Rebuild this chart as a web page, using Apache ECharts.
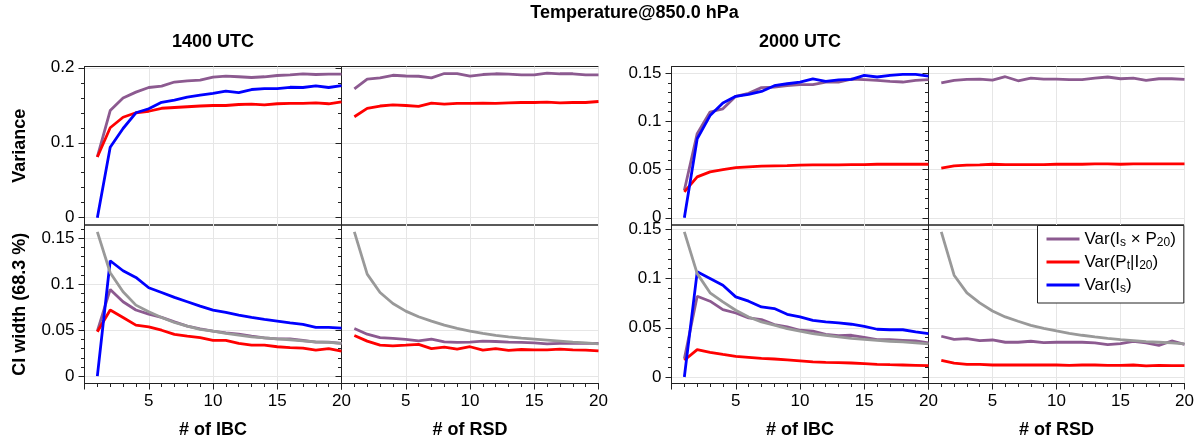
<!DOCTYPE html>
<html>
<head>
<meta charset="utf-8">
<script src="https://cdn.jsdelivr.net/npm/echarts@6.0.0/dist/echarts.min.js"></script>
<style>
html,body{margin:0;padding:0;background:#fff;}
#chart{width:1199px;height:443px;}
</style>
</head>
<body>
<div id="chart"></div>
<script>
// ---------------- data ----------------
const nMembers = [1,2,3,4,5,6,7,8,9,10,11,12,13,14,15,16,17,18,19,20];

const mainTitle = 'Temperature@850.0 hPa';
const timeTitles = ['1400 UTC', '2000 UTC'];
const xTitles = ['# of IBC', '# of RSD'];
const yTitles = ['Variance', 'CI width (68.3 %)'];
const legendNames = ['Var(Is × P20)', 'Var(Pt|I20)', 'Var(Is)'];
const xTickLabels = [5, 10, 15, 20];
const yTicksVarLeft = [0, 0.1, 0.2];
const yTicksOther = [0, 0.05, 0.1, 0.15];

// 1400 UTC, variance vs # of IBC
const v1400IbcMix = [0.081,0.143,0.1596,0.1675,0.1737,0.1755,0.181,0.1826,0.1835,0.1875,0.1888,0.188,0.187,0.188,0.1897,0.1905,0.192,0.191,0.1915,0.1915];
const v1400IbcPt  = [0.081,0.120,0.134,0.140,0.142,0.146,0.147,0.148,0.149,0.1497,0.1497,0.151,0.1515,0.1506,0.152,0.1524,0.1524,0.1533,0.152,0.1546];
const v1400IbcIs  = [0,0.094,0.119,0.140,0.1453,0.154,0.157,0.161,0.1635,0.166,0.169,0.167,0.171,0.1723,0.1723,0.174,0.1737,0.176,0.1737,0.1763];
// 1400 UTC, variance vs # of RSD
const v1400RsdMix = [0.172,0.185,0.1865,0.190,0.189,0.1887,0.1865,0.1923,0.1923,0.189,0.191,0.192,0.1915,0.1905,0.1905,0.193,0.192,0.192,0.1905,0.1905];
const v1400RsdPt  = [0.1347,0.1458,0.149,0.1506,0.1497,0.1484,0.1528,0.1515,0.1524,0.1524,0.1528,0.1524,0.1533,0.1537,0.1537,0.1541,0.1533,0.1537,0.1537,0.155];
// 1400 UTC, CI width vs # of IBC
const c1400IbcRef = [0.157,0.1125,0.0918,0.0773,0.070,0.0639,0.0584,0.0544,0.0508,0.049,0.0465,0.0446,0.0428,0.0417,0.0406,0.0396,0.0385,0.0374,0.0367,0.0356];
const c1400IbcMix = [0.049,0.0944,0.081,0.072,0.0675,0.064,0.059,0.0544,0.0515,0.049,0.047,0.0457,0.0435,0.0417,0.0406,0.0406,0.0388,0.037,0.037,0.0356];
const c1400IbcPt  = [0.0483,0.0719,0.0639,0.0555,0.0537,0.050,0.0454,0.0435,0.042,0.039,0.039,0.0356,0.0337,0.0337,0.032,0.031,0.0305,0.0283,0.030,0.0272];
const c1400IbcIs  = [0,0.1256,0.1147,0.1074,0.0962,0.091,0.0857,0.081,0.0762,0.0719,0.0693,0.0664,0.0639,0.0617,0.0599,0.058,0.0563,0.053,0.053,0.0523];
// 1400 UTC, CI width vs # of RSD
const c1400RsdRef = [0.157,0.111,0.091,0.079,0.0708,0.0646,0.0599,0.0555,0.0519,0.049,0.0465,0.0443,0.0428,0.0414,0.0403,0.0392,0.0381,0.037,0.0363,0.0352];
const c1400RsdMix = [0.0519,0.0457,0.042,0.041,0.040,0.0385,0.0403,0.0374,0.0367,0.037,0.0381,0.0377,0.037,0.0367,0.0363,0.0352,0.0356,0.036,0.0356,0.0356];
const c1400RsdPt  = [0.0443,0.0381,0.0337,0.033,0.0337,0.0345,0.030,0.0316,0.0294,0.032,0.0283,0.030,0.028,0.029,0.0287,0.0287,0.0294,0.0287,0.0283,0.0276];
// 2000 UTC, variance vs # of IBC
const v2000IbcMix = [0.0286,0.0873,0.1097,0.113,0.126,0.129,0.135,0.1356,0.137,0.138,0.138,0.1408,0.1408,0.1439,0.1432,0.1425,0.1415,0.1408,0.1425,0.1432];
const v2000IbcPt  = [0.0269,0.0424,0.0476,0.050,0.052,0.0528,0.0535,0.0538,0.054,0.0545,0.0549,0.0549,0.0549,0.0552,0.0552,0.0555,0.0555,0.0555,0.0555,0.0555];
const v2000IbcIs  = [0,0.082,0.106,0.119,0.126,0.128,0.131,0.137,0.139,0.1408,0.144,0.1415,0.143,0.1435,0.1477,0.146,0.1477,0.1487,0.1487,0.147];
// 2000 UTC, variance vs # of RSD
const v2000RsdMix = [0.140,0.1425,0.1435,0.1439,0.1428,0.1463,0.1421,0.1449,0.1439,0.1439,0.1432,0.1432,0.1449,0.146,0.1442,0.1449,0.1425,0.1442,0.1442,0.1435];
const v2000RsdPt  = [0.0514,0.0538,0.0545,0.0549,0.0555,0.0552,0.0552,0.0552,0.0552,0.0555,0.0555,0.0555,0.0559,0.0559,0.0555,0.0559,0.0559,0.0559,0.0559,0.0559];
// 2000 UTC, CI width vs # of IBC
const c2000IbcRef = [0.1475,0.105,0.0855,0.0763,0.0678,0.061,0.056,0.0526,0.0492,0.0465,0.0441,0.0424,0.0407,0.0393,0.0383,0.0373,0.0363,0.0356,0.0346,0.0336];
const c2000IbcMix = [0.0186,0.082,0.077,0.0685,0.065,0.060,0.0583,0.0532,0.0509,0.0475,0.0465,0.0434,0.042,0.0424,0.0403,0.038,0.038,0.0373,0.0366,0.0346];
const c2000IbcPt  = [0.017,0.0278,0.0251,0.023,0.021,0.020,0.019,0.0183,0.0173,0.0163,0.0153,0.0149,0.0146,0.0142,0.0136,0.0129,0.0125,0.0122,0.0119,0.0115];
const c2000IbcIs  = [0,0.1068,0.100,0.0932,0.0814,0.077,0.0712,0.0695,0.0637,0.061,0.0576,0.056,0.055,0.0536,0.0515,0.0485,0.048,0.048,0.0458,0.0441];
// 2000 UTC, CI width vs # of RSD
const c2000RsdRef = [0.1475,0.1034,0.0854,0.0753,0.067,0.061,0.0566,0.0525,0.0495,0.0468,0.0444,0.0424,0.0407,0.0393,0.038,0.037,0.036,0.0353,0.0346,0.0336];
const c2000RsdMix = [0.0414,0.0383,0.039,0.037,0.0376,0.0353,0.0353,0.0363,0.035,0.0353,0.0353,0.0353,0.0346,0.0329,0.0339,0.0363,0.0346,0.0322,0.0366,0.0332];
const c2000RsdPt  = [0.017,0.0142,0.0129,0.0129,0.0122,0.0122,0.0122,0.0122,0.0122,0.0122,0.0119,0.0122,0.0122,0.0119,0.0119,0.0122,0.0112,0.0119,0.0115,0.0115];

// ---------------- layout / style ----------------
const FONT = '"Liberation Sans", Arial, Helvetica, sans-serif';
const COL = {mix:'#8c5a90', pt:'#ff0000', is:'#0000ff', ref:'#999999'};
const SPINE = '#222';
const GRIDC = '#e6e6e6';

const yLim = {
  topL:{min:-0.0097, max:0.2017, step:0.1,  ticks:yTicksVarLeft},
  botL:{min:-0.008,  max:0.1645, step:0.05, ticks:yTicksOther},
  topR:{min:-0.0075, max:0.1569, step:0.05, ticks:yTicksOther},
  botR:{min:-0.0066, max:0.1544, step:0.05, ticks:yTicksOther}
};
const panels = [
  {left:84.5,  top:66.5, width:257, height:158.5, col:0, bottom:false, lim:yLim.topL, yName:yTitles[0]},
  {left:341.5, top:66.5, width:257, height:158.5, col:1, bottom:false, lim:yLim.topL},
  {left:84.5,  top:225,  width:257, height:158.5, col:0, bottom:true,  lim:yLim.botL, yName:yTitles[1]},
  {left:341.5, top:225,  width:257, height:158.5, col:1, bottom:true,  lim:yLim.botL},
  {left:671.5, top:66.5, width:257, height:158.5, col:0, bottom:false, lim:yLim.topR},
  {left:928.5, top:66.5, width:256, height:158.5, col:1, bottom:false, lim:yLim.topR},
  {left:671.5, top:225,  width:257, height:158.5, col:0, bottom:true,  lim:yLim.botR},
  {left:928.5, top:225,  width:256, height:158.5, col:1, bottom:true,  lim:yLim.botR}
];

const grids = panels.map(p => ({
  left:p.left, top:p.top, width:p.width, height:p.height,
  show:true, borderColor:SPINE, borderWidth:1, backgroundColor:'transparent', containLabel:false
}));

const xAxes = panels.map((p,i) => ({
  gridIndex:i, type:'value', min:0, max:20, interval:5,
  axisLine:{show:p.bottom, onZero:false, lineStyle:{color:SPINE, width:1}},
  axisTick:{show:p.bottom, inside:false, length:6, lineStyle:{color:SPINE, width:1}},
  minorTick:{show:p.bottom, splitNumber:5, length:3.5, lineStyle:{color:SPINE, width:1}},
  axisLabel:{show:p.bottom, fontSize:17, color:'#000', fontFamily:FONT, margin:9,
             formatter:v => (xTickLabels.indexOf(v) >= 0 ? String(v) : '')},
  splitLine:{show:true, lineStyle:{color:GRIDC, width:1}},
  name:p.bottom ? xTitles[p.col] : '',
  nameLocation:'middle', nameGap:38,
  nameTextStyle:{fontSize:18, fontWeight:'bold', color:'#000', fontFamily:FONT}
}));

function yFmt(step){
  return function(v){
    const k = v/step;
    if (Math.abs(k - Math.round(k)) > 1e-6) return '';
    return String(+v.toFixed(4));
  };
}

const yAxes = panels.map((p,i) => ({
  gridIndex:i, type:'value', min:p.lim.min, max:p.lim.max,
  minInterval:p.lim.step, maxInterval:p.lim.step, splitNumber:3,
  axisLine:{show:true, onZero:false, lineStyle:{color:SPINE, width:1}},
  axisTick:{show:true, inside:false, length:6, customValues:p.lim.ticks, lineStyle:{color:SPINE, width:1}},
  minorTick:{show:true, splitNumber:5, length:3.5, lineStyle:{color:SPINE, width:1}},
  axisLabel:{show:p.col === 0, fontSize:17, color:'#000', fontFamily:FONT, margin:10,
             customValues:p.lim.ticks, formatter:yFmt(p.lim.step)},
  splitLine:{show:true, lineStyle:{color:GRIDC, width:1}},
  name:p.yName || '', nameLocation:'middle', nameGap:55, nameRotate:90,
  nameTextStyle:{fontSize:18, fontWeight:'bold', color:'#000', fontFamily:FONT}
}));

function line(idx, name, ys, color){
  return {
    type:'line', name:name, xAxisIndex:idx, yAxisIndex:idx,
    data:nMembers.map((n,i) => [n, ys[i]]),
    showSymbol:false, symbol:'none', smooth:false,
    lineStyle:{width:2.8, color:color}, itemStyle:{color:color},
    emphasis:{disabled:true}, silent:true, z:2
  };
}

const series = [
  line(0, legendNames[0], v1400IbcMix, COL.mix),
  line(0, legendNames[1], v1400IbcPt, COL.pt),
  line(0, legendNames[2], v1400IbcIs, COL.is),
  line(1, legendNames[0], v1400RsdMix, COL.mix),
  line(1, legendNames[1], v1400RsdPt, COL.pt),
  line(2, legendNames[0], c1400IbcMix, COL.mix),
  line(2, legendNames[1], c1400IbcPt, COL.pt),
  line(2, legendNames[2], c1400IbcIs, COL.is),
  line(2, 'reference', c1400IbcRef, COL.ref),
  line(3, legendNames[0], c1400RsdMix, COL.mix),
  line(3, legendNames[1], c1400RsdPt, COL.pt),
  line(3, 'reference', c1400RsdRef, COL.ref),
  line(4, legendNames[0], v2000IbcMix, COL.mix),
  line(4, legendNames[1], v2000IbcPt, COL.pt),
  line(4, legendNames[2], v2000IbcIs, COL.is),
  line(5, legendNames[0], v2000RsdMix, COL.mix),
  line(5, legendNames[1], v2000RsdPt, COL.pt),
  line(6, legendNames[0], c2000IbcMix, COL.mix),
  line(6, legendNames[1], c2000IbcPt, COL.pt),
  line(6, legendNames[2], c2000IbcIs, COL.is),
  line(6, 'reference', c2000IbcRef, COL.ref),
  line(7, legendNames[0], c2000RsdMix, COL.mix),
  line(7, legendNames[1], c2000RsdPt, COL.pt),
  line(7, 'reference', c2000RsdRef, COL.ref)
];

const legendRich = {
  '0':'{n|Var(I}{s|s}{n| × P}{s|20}{n|)}',
  '1':'{n|Var(P}{s|t}{n||I}{s|20}{n|)}',
  '2':'{n|Var(I}{s|s}{n|)}'
};

const titleFont = 'bold 18px ' + FONT;
const option = {
  animation:false,
  backgroundColor:'#fff',
  textStyle:{fontFamily:FONT},
  grid:grids,
  xAxis:xAxes,
  yAxis:yAxes,
  series:series,
  legend:{
    data:legendNames, orient:'vertical', left:1037.5, top:225.5,
    icon:'rect', itemWidth:33, itemHeight:3, itemGap:4.5,
    padding:[5,8,8,9], backgroundColor:'#fff', borderColor:SPINE, borderWidth:1, borderRadius:0,
    selectedMode:false,
    formatter:name => legendRich[String(legendNames.indexOf(name))],
    textStyle:{color:'#000', fontFamily:FONT, fontSize:17,
      rich:{
        n:{fontSize:17, lineHeight:20, color:'#000', fontFamily:FONT},
        s:{fontSize:12, lineHeight:19, verticalAlign:'bottom', color:'#000', fontFamily:FONT}
      }}
  },
  graphic:[
    {type:'text', x:634.5, y:13, silent:true,
     style:{text:mainTitle, align:'center', verticalAlign:'middle', font:titleFont, fill:'#000'}},
    {type:'text', x:213, y:42, silent:true,
     style:{text:timeTitles[0], align:'center', verticalAlign:'middle', font:titleFont, fill:'#000'}},
    {type:'text', x:800, y:42, silent:true,
     style:{text:timeTitles[1], align:'center', verticalAlign:'middle', font:titleFont, fill:'#000'}}
  ]
};

const chart = echarts.init(document.getElementById('chart'), null, {renderer:'canvas'});
chart.setOption(option);
</script>
</body>
</html>
